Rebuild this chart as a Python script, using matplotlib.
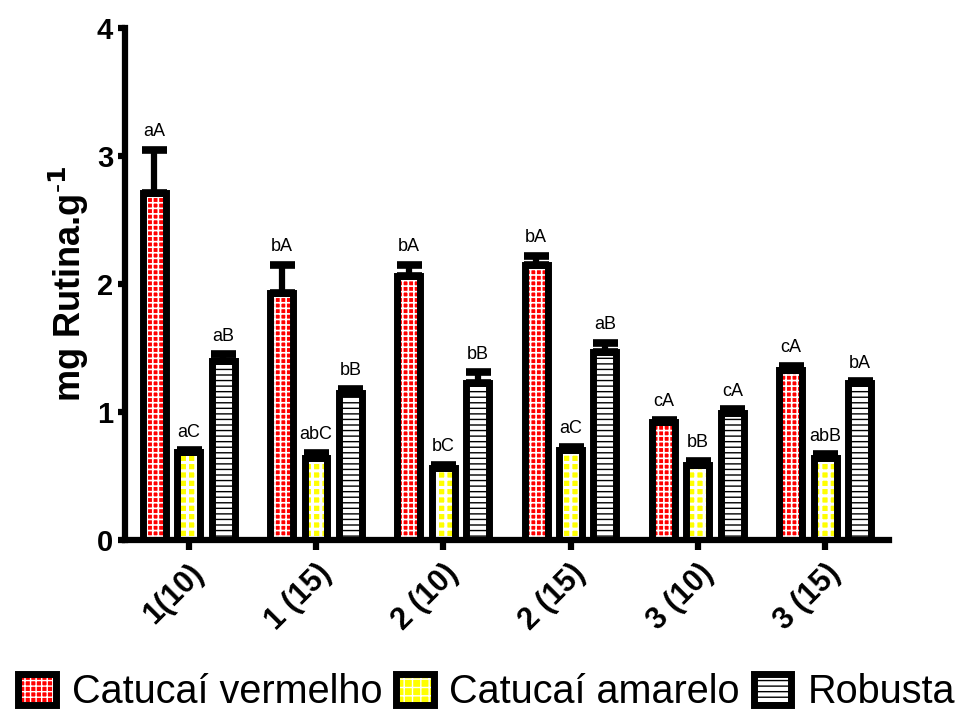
import numpy as np
import matplotlib
matplotlib.use("Agg")
import matplotlib.pyplot as plt
from matplotlib.legend_handler import HandlerTuple

plt.rcParams['font.family'] = ['Liberation Sans', 'DejaVu Sans']

# data
groups = ["1(10)", "1 (15)", "2 (10)", "2 (15)", "3 (10)", "3 (15)"]
series = ["Catucaí vermelho", "Catucaí amarelo", "Robusta"]

vermelho = [2.71, 1.93, 2.06, 2.15, 0.92, 1.33]
vermelho_err = [0.34, 0.22, 0.09, 0.07, 0.02, 0.03]
amarelo = [0.69, 0.64, 0.56, 0.70, 0.59, 0.64]
amarelo_err = [0.01, 0.04, 0.03, 0.03, 0.03, 0.03]
robusta = [1.40, 1.15, 1.23, 1.47, 0.99, 1.23]
robusta_err = [0.05, 0.03, 0.08, 0.07, 0.03, 0.01]

letters_verm = ["aA", "bA", "bA", "bA", "cA", "cA"]
letters_amar = ["aC", "abC", "bC", "aC", "bB", "abB"]
letters_rob = ["aB", "bB", "bB", "aB", "cA", "bA"]

values = [vermelho, amarelo, robusta]
errors = [vermelho_err, amarelo_err, robusta_err]
letters = [letters_verm, letters_amar, letters_rob]
faces = ["#ff0000", "#ffff00", "white"]
hatches = ["+++", "++", "---"]
hatch_colors = ["white", "white", "black"]
hatch_lw = [1.2, 2.2, 1.0]

fig = plt.figure(figsize=(9.73, 7.13), dpi=100)
ax = fig.add_axes([0.1285, 0.2426, 0.785, 0.718])

x = np.arange(len(groups))
pitch = 0.27
width = 0.18
handles = []
for k in range(3):
    xs = x + (k - 1) * pitch
    fill = ax.bar(xs, values[k], width, color=faces[k], hatch=hatches[k],
                  edgecolor=hatch_colors[k], linewidth=0, zorder=2)
    for p in fill.patches:
        if hasattr(p, "set_hatch_linewidth"):
            p.set_hatch_linewidth(hatch_lw[k])
    ax.errorbar(xs, values[k], yerr=[np.zeros(len(x)), errors[k]], fmt="none",
                ecolor="black", elinewidth=4.5, capsize=9, capthick=5.5, zorder=2.5)
    outline = ax.bar(xs, values[k], width, fill=False, edgecolor="black",
                     linewidth=5, zorder=3)
    handles.append((fill, outline))
    for xi, v, e, t in zip(xs, values[k], errors[k], letters[k]):
        ax.annotate(t, (xi, v + e), xytext=(0, 7), textcoords="offset points",
                    ha="center", va="bottom", fontsize=13)

ax.set_xlim(-0.5, 5.5)
ax.set_ylim(0, 4)
ax.set_yticks([0, 1, 2, 3, 4])
ax.set_xticks(x)
ax.set_xticklabels(groups, rotation=45, ha="right", rotation_mode="anchor",
                   fontsize=22, fontweight="bold")
for lab in ax.get_yticklabels():
    lab.set_fontsize(21)
    lab.set_fontweight("bold")
ax.set_ylabel("mg Rutina.g$^{\\mathbf{\\text{-}1}}$", fontsize=26, fontweight="bold", labelpad=4)

for s in ["top", "right"]:
    ax.spines[s].set_visible(False)
for s in ["left", "bottom"]:
    ax.spines[s].set_linewidth(4.5)
ax.tick_params(width=4.5, length=5, direction="out")
ax.tick_params(axis="x", length=7, pad=6)

fig.legend(handles, series, loc="lower center", bbox_to_anchor=(0.5, -0.006),
           ncol=3, frameon=False, fontsize=28.5, handlelength=0.95, handleheight=0.85,
           handletextpad=0.4, columnspacing=0.35, borderaxespad=0.0, borderpad=0.15,
           handler_map={tuple: HandlerTuple(ndivide=1)})

fig.savefig("out.png", dpi=100)
